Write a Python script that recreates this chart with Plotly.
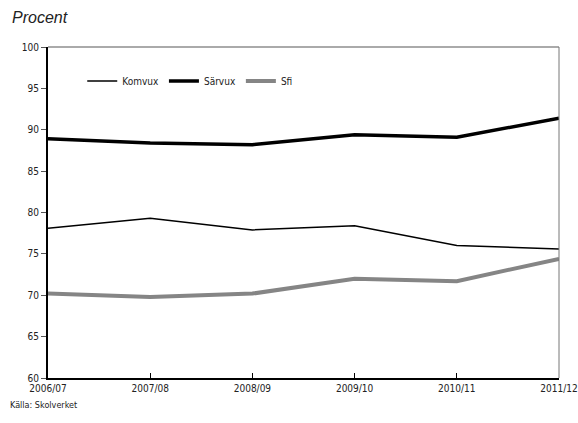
import plotly.graph_objects as go

years = ["2006/07", "2007/08", "2008/09", "2009/10", "2010/11", "2011/12"]
komvux = [78.1, 79.3, 77.9, 78.4, 76.0, 75.6]
sarvux = [88.9, 88.4, 88.2, 89.4, 89.1, 91.4]
sfi = [70.2, 69.8, 70.2, 72.0, 71.7, 74.4]
y_ticks = [60, 65, 70, 75, 80, 85, 90, 95, 100]

FONT = "Liberation Sans Narrow, DejaVu Sans Condensed, Roboto Condensed, Arial Narrow, sans-serif"

fig = go.Figure()
fig.add_trace(go.Scatter(x=years, y=komvux, name="Komvux", mode="lines",
                         line=dict(color="#000000", width=1.5)))
fig.add_trace(go.Scatter(x=years, y=sarvux, name="Särvux", mode="lines",
                         line=dict(color="#000000", width=3.5)))
fig.add_trace(go.Scatter(x=years, y=sfi, name="Sfi", mode="lines",
                         line=dict(color="#858585", width=4)))

W, H = 578, 423
L, R, T, B = 48, 19, 47, 45
pw, ph = W - L - R, H - T - B

fig.update_layout(
    width=W, height=H,
    margin=dict(l=L, r=R, t=T, b=B, autoexpand=False),
    paper_bgcolor="white", plot_bgcolor="white",
    font=dict(family=FONT, size=10, color="#222222"),
    showlegend=True,
    legend=dict(orientation="h", x=0.067, y=0.897, xanchor="left", yanchor="middle",
                font=dict(family=FONT, size=10, color="#222222"),
                itemwidth=30, tracegroupgap=0, bgcolor="rgba(0,0,0,0)"),
    xaxis=dict(type="category", range=[0, 5], showgrid=False, zeroline=False,
               showline=True, linecolor="#000000", linewidth=2,
               ticks="inside", ticklen=5, tickcolor="#000000",
               tickfont=dict(family=FONT, size=10, color="#222222")),
    yaxis=dict(range=[60, 100], tickvals=y_ticks, showgrid=False, zeroline=False,
               showline=True, linecolor="#000000", linewidth=2,
               ticks="outside", ticklen=5, tickcolor="#555555",
               tickfont=dict(family=FONT, size=10, color="#222222")),
    shapes=[
        dict(type="line", xref="paper", yref="paper", x0=0, x1=1, y0=1, y1=1,
             line=dict(color="#aaaaaa", width=2)),
        dict(type="line", xref="paper", yref="paper", x0=1, x1=1, y0=0, y1=1,
             line=dict(color="#777777", width=1)),
    ],
    annotations=[
        dict(text="<i>Procent</i>", xref="paper", yref="paper",
             x=(10 - L) / pw, y=(H - B - 18) / ph,
             xanchor="left", yanchor="middle", showarrow=False,
             font=dict(family="Liberation Sans", size=16, color="#222222")),
        dict(text="Källa: Skolverket", xref="paper", yref="paper",
             x=(8 - L) / pw, y=(H - B - 405) / ph,
             xanchor="left", yanchor="middle", showarrow=False,
             font=dict(family=FONT, size=9, color="#222222")),
    ],
)

fig.write_html("out.html",
               config={"displayModeBar": False},
               post_script="document.body.style.margin='0';document.body.style.overflow='hidden';")
